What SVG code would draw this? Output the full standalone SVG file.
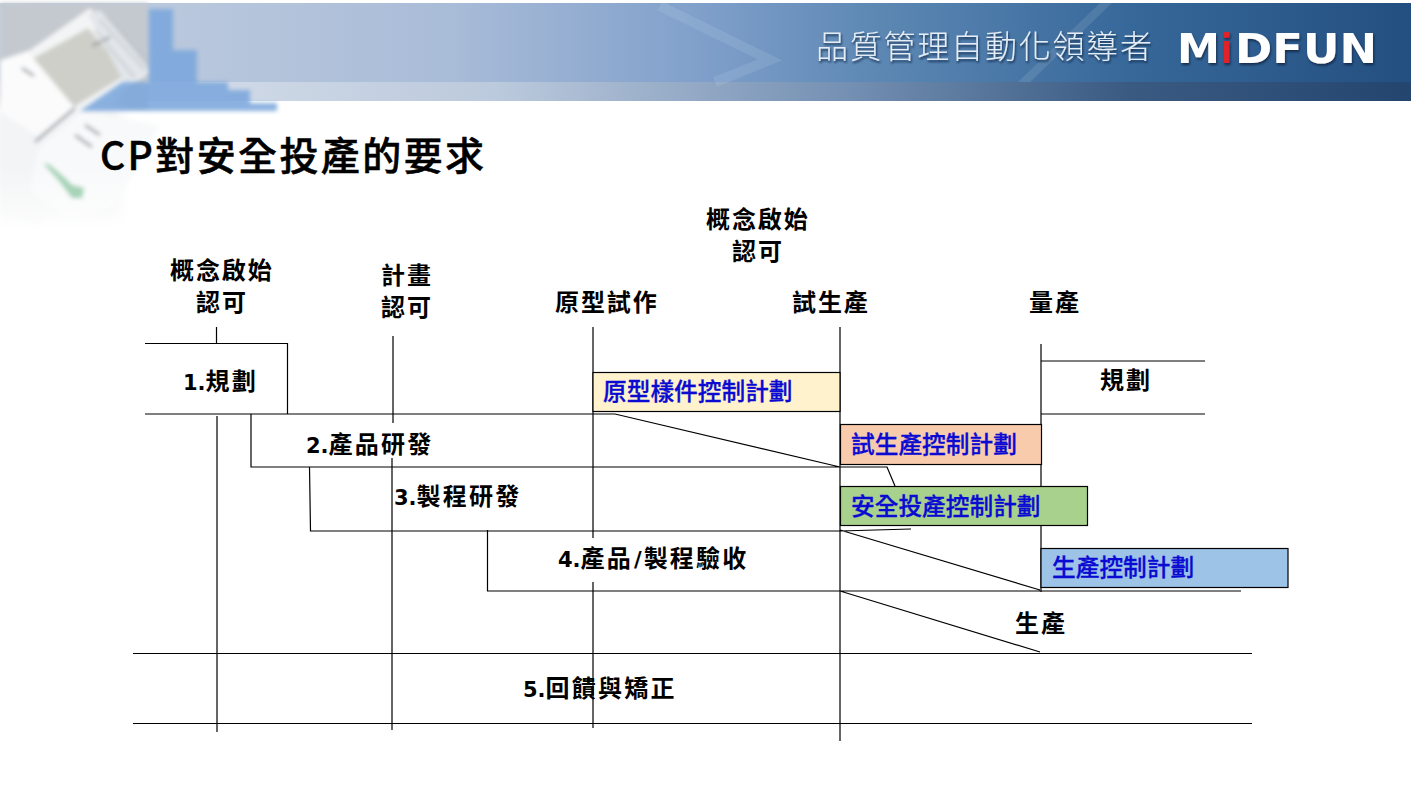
<svg xmlns="http://www.w3.org/2000/svg" width="1411" height="795" viewBox="0 0 1411 795">
<style>
.l{font-family:"Noto Sans CJK TC","DejaVu Sans",sans-serif;font-size:24px;font-weight:700;fill:#000;letter-spacing:1.9px}
.n{font-family:"Noto Sans CJK TC","DejaVu Sans",sans-serif;font-size:24px;font-weight:700;fill:#000;letter-spacing:2.2px}
.d{font-family:"DejaVu Sans",sans-serif;font-size:21px;font-weight:700;letter-spacing:0}
.p{font-family:"Noto Sans CJK TC",sans-serif;font-size:23.7px;font-weight:500;fill:#0a0ad2;stroke:#0a0ad2;stroke-width:0.3}
.c{fill:none;stroke:#000;stroke-width:1.2}
.b{stroke:#000;stroke-width:1.2}
</style>
<defs>
<linearGradient id="band" x1="0" x2="1" y1="0" y2="0">
<stop offset="0" stop-color="#c3cfdf"/><stop offset="0.32" stop-color="#a9bcd8"/><stop offset="0.5" stop-color="#7f9fca"/><stop offset="0.62" stop-color="#5d88b4"/><stop offset="0.8" stop-color="#37689a"/><stop offset="1" stop-color="#234f80"/>
</linearGradient>
<linearGradient id="strip" x1="0" x2="1" y1="0" y2="0">
<stop offset="0" stop-color="#dfe5ee"/><stop offset="0.35" stop-color="#bccadd"/><stop offset="0.6" stop-color="#7490b3"/><stop offset="0.8" stop-color="#3a5a82"/><stop offset="1" stop-color="#24466e"/>
</linearGradient>
<linearGradient id="fade" x1="0" x2="0" y1="0" y2="1">
<stop offset="0" stop-color="#fff" stop-opacity="0"/><stop offset="1" stop-color="#fff" stop-opacity="1"/>
</linearGradient>
<filter id="bl" x="-20%" y="-20%" width="140%" height="140%"><feGaussianBlur stdDeviation="2"/></filter>
<filter id="bl2" x="-30%" y="-30%" width="160%" height="160%"><feGaussianBlur stdDeviation="6"/></filter>
<filter id="sh" x="-10%" y="-20%" width="120%" height="150%"><feDropShadow dx="1" dy="2" stdDeviation="1" flood-color="#0a2340" flood-opacity="0.8"/></filter>
</defs>
<rect width="1411" height="795" fill="#fff"/>
<g id="header">
<rect x="0" y="3" width="1411" height="79" fill="url(#band)"/>
<rect x="0" y="82" width="1411" height="19" fill="url(#strip)"/>
<path d="M1100 3L1112 3 1030 82 1018 82Z" fill="#fff" opacity="0.1"/>
<path d="M660 6L770 60 715 82" fill="none" stroke="#cfe0ee" stroke-width="10" opacity="0.14"/>
<rect x="0" y="3" width="148" height="105" fill="#c4c9cf" filter="url(#bl)"/>
<rect x="0" y="100" width="120" height="120" fill="#f2f3f4" filter="url(#bl2)"/>
<g id="sheet" filter="url(#bl)">
<polygon points="0,60 30,50 90,8 150,72 122,92 40,225 0,215" fill="#f3f4f5"/>
<polygon points="30,60 88,28 128,74 72,108" fill="#cfcfc9"/>
<polygon points="88,14 100,10 150,70 126,86" fill="#e2e6ea"/>
<polygon points="0,62 28,52 75,108 38,136 0,112" fill="#fbfbfc"/>
<polygon points="38,150 82,112 160,125 115,205 70,222 30,190" fill="#f8f9fa"/>
<path d="M22 68L34 76M92 46L110 37M75 108L35 142" stroke="#90959c" stroke-width="2.5" fill="none"/>
<path d="M100 20L145 70M108 18L150 62M95 30L135 78" stroke="#bcc2c9" stroke-width="1.5" fill="none"/>
<path d="M85 125L100 135M75 135L92 147" stroke="#a4a9af" stroke-width="3" fill="none"/>
</g>
<rect x="0" y="165" width="200" height="80" fill="url(#fade)"/>
<rect x="0" y="245" width="200" height="20" fill="#fff"/>
<path d="M149 9H173V50H197V82H228V90H250V103H277V111H80L122 82H149Z" fill="#7ba7dc" opacity="0.88" filter="url(#bl)"/>
<polygon points="43,163 50,165 65,178 72,185 84,188 82,198 72,198 60,182" fill="#a7d3b8" filter="url(#bl)"/>
<text x="816" y="58" font-family="'Noto Sans CJK TC',sans-serif" font-size="32" font-weight="300" fill="#e4edf5" textLength="336" filter="url(#sh)">品質管理自動化領導者</text>
<g font-family="'DejaVu Sans',sans-serif" font-weight="700" font-size="41" filter="url(#sh)">
<text x="1177" y="63" fill="#fff" textLength="43" lengthAdjust="spacingAndGlyphs">M</text>
<text x="1221" y="63" fill="#e0202a" textLength="11" lengthAdjust="spacingAndGlyphs">i</text>
<text x="1235" y="63" fill="#fff" textLength="142" lengthAdjust="spacingAndGlyphs">DFUN</text>
</g>
</g>
<g id="title"><text x="100" y="170" font-family="'Noto Sans CJK TC',sans-serif" font-size="39" font-weight="500" fill="#000" stroke="#000" stroke-width="0.5" letter-spacing="2.4">CP對安全投產的要求</text></g>
<g id="connectors">
<path class="c" d="M216.5 327V343.5M217 416V732M393 336V423M392 458V730M593 327V538M593 582V728M840 327V741M1041 344V592"/>
<path class="c" d="M145 343.5H287.5V414M145 414H615L840 467M251 414V467H887L895 486M309.5 467L310.5 531H840L911 529M487.5 530V591H1241M840 530L1040 590M840 591L1040 652"/>
<path class="c" d="M133 653.5H1252M133 723.5H1252M1041 361H1205M1041 414H1205"/>
</g>
<g id="gate1"><text class="l" x="170" y="279">概念啟始</text><text class="l" x="196" y="311">認可</text></g>
<g id="gate2"><text class="l" x="381" y="284">計畫</text><text class="l" x="381" y="316">認可</text></g>
<g id="gate3"><text class="l" x="555" y="311">原型試作</text></g>
<g id="gate4"><text class="l" x="706" y="228">概念啟始</text><text class="l" x="732" y="260">認可</text></g>
<g id="gate5"><text class="l" x="792" y="311">試生產</text></g>
<g id="gate6"><text class="l" x="1029" y="311">量產</text></g>
<g id="phase1"><text class="n" x="183" y="390"><tspan class="d">1.</tspan>規劃</text></g>
<g id="phase2"><text class="n" x="306" y="453"><tspan class="d">2.</tspan>產品研發</text></g>
<g id="phase3"><text class="n" x="394" y="505"><tspan class="d">3.</tspan>製程研發</text></g>
<g id="phase4"><text class="n" x="558" y="567"><tspan class="d">4.</tspan>產品<tspan class="d" dx="1">/</tspan><tspan dx="2">製程驗收</tspan></text></g>
<g id="phase5"><text class="n" x="523" y="697"><tspan class="d">5.</tspan>回饋與矯正</text></g>
<g id="plan"><text class="l" x="1100" y="389">規劃</text></g>
<g id="prod"><text class="l" x="1015" y="632">生產</text></g>
<g id="ctrl1"><rect class="b" x="593" y="372.5" width="247" height="39" fill="#fff2cc"/><text class="p" x="603" y="400">原型樣件控制計劃</text></g>
<g id="ctrl2"><rect class="b" x="840.5" y="424.5" width="201" height="40" fill="#f8cbad"/><text class="p" x="851" y="453">試生產控制計劃</text></g>
<g id="ctrl3"><rect class="b" x="840.5" y="486.5" width="247" height="39" fill="#a9d18e"/><text class="p" x="851" y="515">安全投產控制計劃</text></g>
<g id="ctrl4"><rect class="b" x="1041" y="548.5" width="247" height="39" fill="#9dc3e6"/><text class="p" x="1052" y="576">生產控制計劃</text></g>
</svg>
